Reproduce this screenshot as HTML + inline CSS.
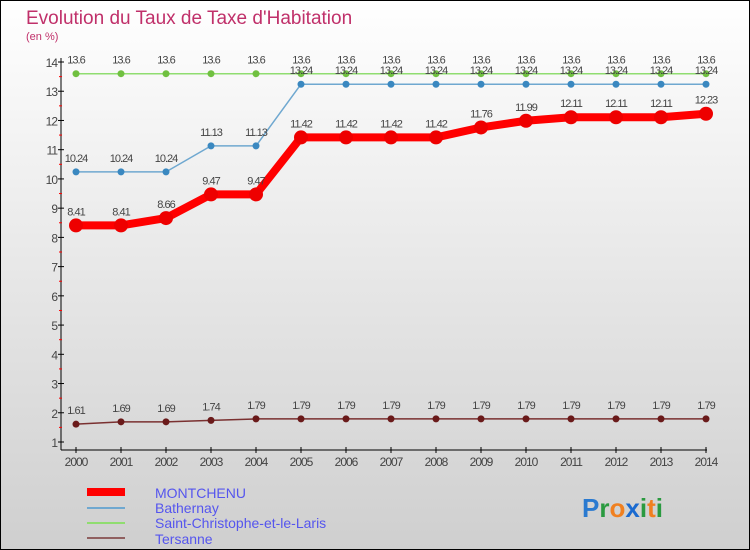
<!DOCTYPE html>
<html><head><meta charset="utf-8"><style>
body{margin:0}
svg{display:block;font-family:"Liberation Sans",sans-serif}
</style></head><body>
<svg width="750" height="550" xmlns="http://www.w3.org/2000/svg">
<defs><linearGradient id="bg" x1="0" y1="0" x2="0" y2="1"><stop offset="0" stop-color="#ffffff"/><stop offset="1" stop-color="#cfcfcf"/></linearGradient></defs>
<rect x="0.5" y="0.5" width="749" height="549" fill="url(#bg)" stroke="#000"/>
<text x="26" y="24" font-size="19" fill="#c0306a">Evolution du Taux de Taxe d'Habitation</text>
<text x="26" y="40" font-size="11" fill="#c0306a">(en %)</text>
<g id="axes"></g>
<g id="series"></g>
<g id="legend">
<rect x="87" y="488" width="38" height="8" fill="#f00"/>
<text x="155" y="498" font-size="14" fill="#5555ee">MONTCHENU</text>
<line x1="87" y1="508" x2="125" y2="508" stroke="#6fa8d0" stroke-width="2"/>
<text x="155" y="513" font-size="14" fill="#5555ee">Bathernay</text>
<line x1="87" y1="523" x2="125" y2="523" stroke="#90dd70" stroke-width="2"/>
<text x="155" y="528" font-size="14" fill="#5555ee">Saint-Christophe-et-le-Laris</text>
<line x1="87" y1="538" x2="125" y2="538" stroke="#906060" stroke-width="2"/>
<text x="155" y="544" font-size="14" fill="#5555ee">Tersanne</text>
</g>
<g font-size="26" font-weight="bold">
<text x="582" y="517"><tspan fill="#2a7ad0">P</tspan><tspan fill="#2a9a40">r</tspan><tspan fill="#f08020">o</tspan><tspan fill="#1a6ad0">x</tspan><tspan fill="#2a9a40">i</tspan><tspan fill="#f08020">t</tspan><tspan fill="#2a9a40">i</tspan></text>
</g>
</svg>
<script>
const years=[2000,2001,2002,2003,2004,2005,2006,2007,2008,2009,2010,2011,2012,2013,2014];
const montchenu=[8.41,8.41,8.66,9.47,9.47,11.42,11.42,11.42,11.42,11.76,11.99,12.11,12.11,12.11,12.23];
const bathernay=[10.24,10.24,10.24,11.13,11.13,13.24,13.24,13.24,13.24,13.24,13.24,13.24,13.24,13.24,13.24];
const saintChristophe=[13.6,13.6,13.6,13.6,13.6,13.6,13.6,13.6,13.6,13.6,13.6,13.6,13.6,13.6,13.6];
const tersanne=[1.61,1.69,1.69,1.74,1.79,1.79,1.79,1.79,1.79,1.79,1.79,1.79,1.79,1.79,1.79];
const yTicks=[1,2,3,4,5,6,7,8,9,10,11,12,13,14];
const NS="http://www.w3.org/2000/svg";
const xS=i=>76+i*45;
const yS=v=>442-(v-1)*(380/13);
function mk(t,a,p){const e=document.createElementNS(NS,t);for(const k in a)e.setAttribute(k,a[k]);p.appendChild(e);return e;}
const ax=document.getElementById('axes');
const yaxis=mk('line',{x1:61,y1:58,x2:61,y2:450,stroke:'#000','stroke-width':1},ax);


const xaxis=mk('line',{x1:61,y1:450,x2:707,y2:450,stroke:'#000','stroke-width':1},ax);


yTicks.forEach(v=>{
  mk('line',{x1:58,y1:yS(v),x2:64,y2:yS(v),stroke:'#000'},ax);
  if(v<14) mk('line',{x1:59,y1:yS(v+0.5),x2:62,y2:yS(v+0.5),stroke:'#f00'},ax);
  const t=mk('text',{x:57,y:yS(v)+5,'font-size':12,fill:'#444','text-anchor':'end','letter-spacing':'-1'},ax);
  t.textContent=v;
  
  
});
years.forEach((y,i)=>{
  mk('line',{x1:xS(i),y1:447,x2:xS(i),y2:453,stroke:'#000'},ax);
  const t=mk('text',{x:xS(i),y:466,'font-size':12,fill:'#444','text-anchor':'middle','letter-spacing':'-1'},ax);
  t.textContent=y;
  
  
});
const sg=document.getElementById('series');
function series(vals,name,color,dot,w,r){
  const g=mk('g',{},sg);
  
  
  const pl=mk('polyline',{points:vals.map((v,i)=>xS(i)+','+yS(v)).join(' '),fill:'none',stroke:color,'stroke-width':w,'stroke-linejoin':'round'},g);
  
  
  vals.forEach((v,i)=>{
    const c=mk('circle',{cx:xS(i),cy:yS(v),r:r,fill:dot},g);
    
    
    const t=mk('text',{x:xS(i),y:yS(v)-10,'font-size':11,fill:'#444','text-anchor':'middle','letter-spacing':'-1'},g);
    t.textContent=v;
    
    
  });
}
series(tersanne,'tersanne','#7a3030','#6a1a1a',1.5,3.5);
series(saintChristophe,'saint-christophe','#90dd70','#70c040',1.5,3.5);
series(bathernay,'bathernay','#6fa8d0','#3a88c0',1.5,3.5);
series(montchenu,'montchenu','#f00','#e00',8,7);
</script>
</body></html>
